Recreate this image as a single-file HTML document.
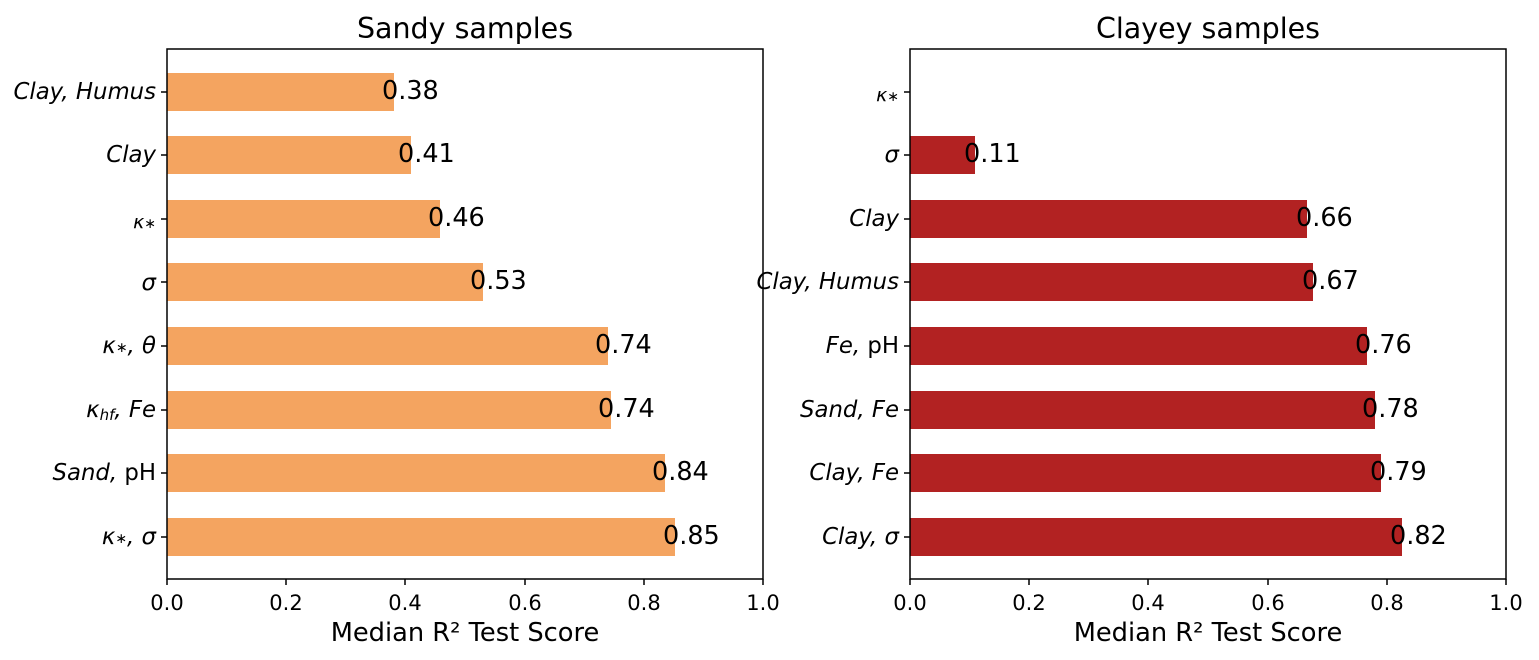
<!DOCTYPE html>
<html><head><meta charset="utf-8"><style>body{margin:0;background:#fff}</style></head><body>
<svg width="1539" height="655" xmlns="http://www.w3.org/2000/svg" font-family="'DejaVu Sans', 'Liberation Sans', sans-serif">
<g>
<text x="465" y="38" font-size="28.5" text-anchor="middle">Sandy samples</text>
<g fill="#f4a460">
<rect x="167" y="73" width="227" height="38"/>
<rect x="167" y="136" width="244" height="38"/>
<rect x="167" y="200" width="273" height="38"/>
<rect x="167" y="263" width="316" height="38"/>
<rect x="167" y="327" width="441" height="38"/>
<rect x="167" y="391" width="444" height="38"/>
<rect x="167" y="454" width="498" height="38"/>
<rect x="167" y="518" width="508" height="38"/>
</g>
<g font-size="25.5" dominant-baseline="central">
<text x="382" y="91">0.38</text><text x="398" y="154">0.41</text><text x="428" y="218">0.46</text><text x="470" y="281">0.53</text>
<text x="595" y="345">0.74</text><text x="598" y="409">0.74</text><text x="652" y="472">0.84</text><text x="663" y="536">0.85</text>
</g>
<g font-size="22.8" text-anchor="end" dominant-baseline="central" font-style="italic">
<text x="156" y="92">Clay, Humus</text><text x="156" y="155">Clay</text>
<text x="156" y="222" font-size="19">κ<tspan font-size="14" dy="2">∗</tspan></text><text x="156" y="283">σ</text>
<text x="156" y="346">κ<tspan font-size="14" dy="2">∗</tspan><tspan dy="-2">, θ</tspan></text>
<text x="156" y="410">κ<tspan font-size="15" dy="5">hf</tspan><tspan dy="-5">, Fe</tspan></text>
<text x="156" y="473">Sand, <tspan font-style="normal">pH</tspan></text>
<text x="156" y="537">κ<tspan font-size="14" dy="2">∗</tspan><tspan dy="-2">, σ</tspan></text>
</g>
<g stroke="#000" stroke-width="1.5">
<rect x="167" y="49" width="596" height="530" fill="none"/>
<path d="M161 92h6M161 155h6M161 219h6M161 282h6M161 346h6M161 410h6M161 473h6M161 537h6M167 579v6M286 579v6M405 579v6M525 579v6M644 579v6M763 579v6"/>
</g>
<g font-size="21" text-anchor="middle">
<text x="167" y="610">0.0</text><text x="286" y="610">0.2</text><text x="405" y="610">0.4</text><text x="525" y="610">0.6</text><text x="644" y="610">0.8</text><text x="763" y="610">1.0</text>
</g>
<text x="465" y="641" font-size="25.7" text-anchor="middle">Median R² Test Score</text>
</g>
<g>
<text x="1208" y="38" font-size="28.5" text-anchor="middle">Clayey samples</text>
<g fill="#b22222">
<rect x="910" y="136" width="65" height="38"/>
<rect x="910" y="200" width="397" height="38"/>
<rect x="910" y="263" width="403" height="38"/>
<rect x="910" y="327" width="457" height="38"/>
<rect x="910" y="391" width="465" height="38"/>
<rect x="910" y="454" width="471" height="38"/>
<rect x="910" y="518" width="492" height="38"/>
</g>
<g font-size="25.5" dominant-baseline="central">
<text x="964" y="154">0.11</text><text x="1296" y="218">0.66</text><text x="1302" y="281">0.67</text>
<text x="1355" y="345">0.76</text><text x="1362" y="409">0.78</text><text x="1370" y="472">0.79</text><text x="1390" y="536">0.82</text>
</g>
<g font-size="22.8" text-anchor="end" dominant-baseline="central" font-style="italic">
<text x="899" y="95" font-size="19">κ<tspan font-size="14" dy="2">∗</tspan></text><text x="899" y="155">σ</text>
<text x="899" y="219">Clay</text><text x="899" y="282">Clay, Humus</text>
<text x="899" y="346">Fe, <tspan font-style="normal">pH</tspan></text>
<text x="899" y="410">Sand, Fe</text><text x="899" y="473">Clay, Fe</text><text x="899" y="537">Clay, σ</text>
</g>
<g stroke="#000" stroke-width="1.5">
<rect x="910" y="49" width="596" height="530" fill="none"/>
<path d="M904 92h6M904 155h6M904 219h6M904 282h6M904 346h6M904 410h6M904 473h6M904 537h6M910 579v6M1029 579v6M1148 579v6M1268 579v6M1387 579v6M1506 579v6"/>
</g>
<g font-size="21" text-anchor="middle">
<text x="910" y="610">0.0</text><text x="1029" y="610">0.2</text><text x="1148" y="610">0.4</text><text x="1268" y="610">0.6</text><text x="1387" y="610">0.8</text><text x="1506" y="610">1.0</text>
</g>
<text x="1208" y="641" font-size="25.7" text-anchor="middle">Median R² Test Score</text>
</g>
</svg>
</body></html>
